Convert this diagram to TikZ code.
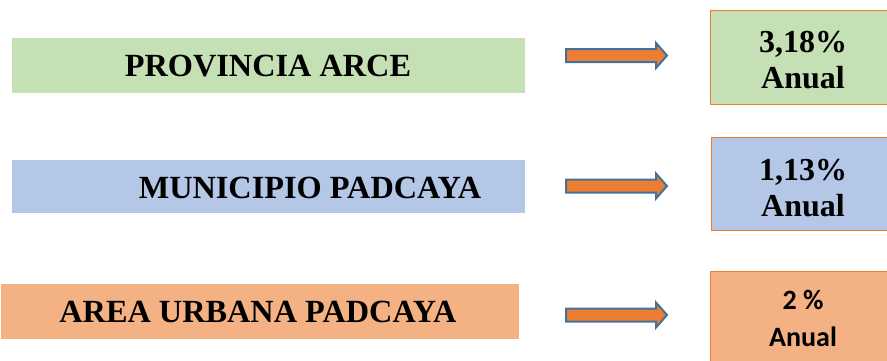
\documentclass[tikz,border=0pt]{standalone}
\usepackage{fontspec}
\setmainfont{Liberation Serif}
\newfontfamily\calib{Carlito}
\definecolor{cgreen}{HTML}{C5E0B4}
\definecolor{cblue}{HTML}{B4C7E7}
\definecolor{corange}{HTML}{F4B183}
\definecolor{cedge}{HTML}{ED7D31}
\definecolor{carrow}{HTML}{ED7D31}
\definecolor{carrowedge}{HTML}{41719C}
\begin{document}
\begin{tikzpicture}[x=1pt,y=-1pt,
  lbox/.style={draw=none, anchor=north west, inner sep=0pt},
  rbox/.style={draw=cedge, line width=1.3pt, anchor=north west, inner sep=0pt},
  ltext/.style={font=\bfseries\fontsize{32.3}{36}\selectfont, inner sep=0pt},
  rtext/.style={font=\bfseries\fontsize{32}{36}\selectfont, align=center, inner sep=0pt},
  rtextsans/.style={font=\calib\bfseries\fontsize{28}{37}\selectfont, align=center, inner sep=0pt},
  bigarrow/.style={fill=carrow, draw=carrowedge, line width=2pt, line join=miter}
]
\useasboundingbox (0,0) rectangle (887,360);
\clip (0,0) rectangle (887,360);
% left boxes
\node[lbox, fill=cgreen, minimum width=513pt, minimum height=55pt] (b1) at (12,38) {};
\node[lbox, fill=cblue, minimum width=513pt, minimum height=53pt] (b2) at (12,160) {};
\node[lbox, fill=corange, minimum width=518pt, minimum height=55pt] (b3) at (1,284) {};
\node[ltext] (t1) at (268,66) {PROVINCIA ARCE};
\node[ltext] (t2) at (310,188) {MUNICIPIO PADCAYA};
\node[ltext] (t3) at (258,312) {AREA URBANA PADCAYA};
% right boxes
\node[rbox, fill=cgreen, minimum width=190pt, minimum height=94pt] (r1) at (710,10) {};
\node[rbox, fill=cblue, minimum width=190pt, minimum height=93pt] (r2) at (711,137) {};
\node[rbox, fill=corange, minimum width=190pt, minimum height=100pt] (r3) at (710,271) {};
\node[rtext] (p1) at (803,60.5) {3,18\%\\Anual};
\node[rtext] (p2) at (803,188.5) {1,13\%\\Anual};
\node[rtextsans] (p3) at (803,318.5) {2 \%\\Anual};
% arrows
\foreach \yc/\nm in {55.5/a1,186/a2,315/a3}{
  \coordinate (\nm) at (566,\yc);
  \draw[bigarrow] (\nm) ++(0,-6.5) -- ++(90,0) -- ++(0,-6) -- ++(11,12.5) -- ++(-11,12.5) -- ++(0,-6) -- ++(-90,0) -- cycle;
}
\end{tikzpicture}
\end{document}
